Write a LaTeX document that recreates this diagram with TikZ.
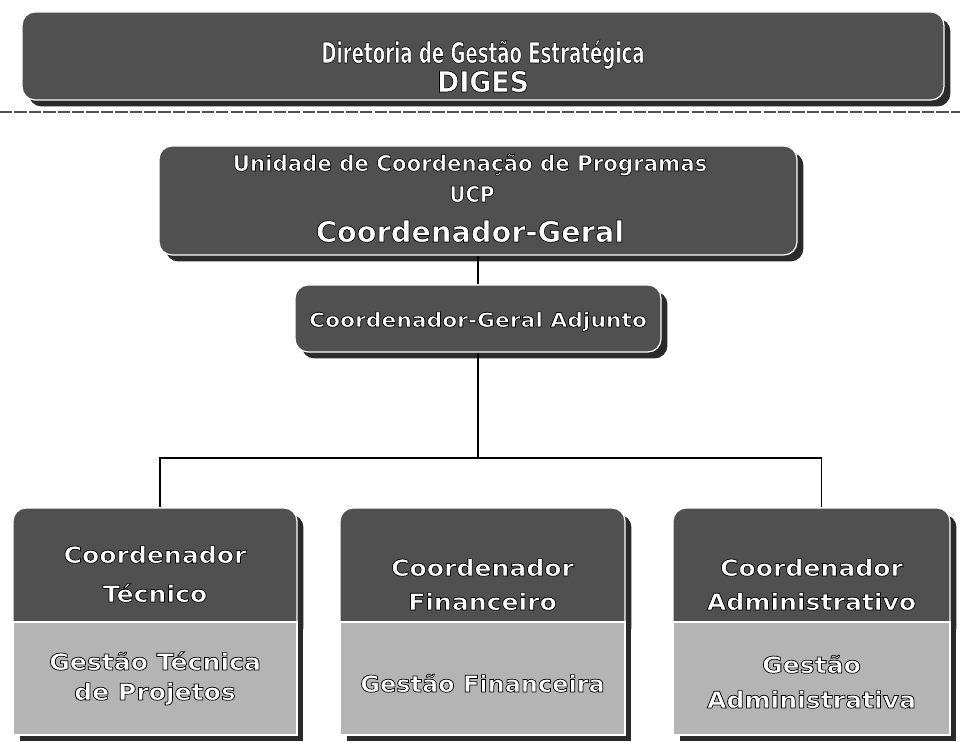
\documentclass[tikz,border=0pt]{standalone}
\usepackage{fontspec}
\setmainfont{DejaVu Sans}
\usepackage{graphicx}
\usetikzlibrary{shadows}
\definecolor{boxdark}{HTML}{505050}
\definecolor{boxlight}{HTML}{B4B4B4}
\definecolor{shd}{HTML}{2A2A2A}
\definecolor{dashc}{HTML}{505050}
\newcommand\outl[1]{\special{pdf:literal direct 0 0 0 RG 0.4 w 2 Tr}#1\special{pdf:literal direct 0 Tr}}
\newcommand\sx[2]{\scalebox{#1}[1]{\outl{#2}}}
\tikzset{
  sh/.style={drop shadow={shadow xshift=0.13cm, shadow yshift=-0.13cm, fill=shd, opacity=1}},
  darkbox/.style={rectangle, rounded corners=0.26cm, fill=boxdark, draw=white, line width=0.7pt, inner sep=0pt, sh},
  lightbox/.style={rectangle, fill=boxlight, draw=white, line width=0.7pt, inner sep=0pt, sh},
  lbl/.style={text=white, anchor=base, inner sep=0pt},
  big/.style={font=\bfseries\fontsize{16.4}{18}\selectfont},
  mid/.style={font=\bfseries\fontsize{12.5}{15}\selectfont},
  low/.style={font=\bfseries\fontsize{13}{15}\selectfont},
  small/.style={font=\bfseries\fontsize{11.3}{13}\selectfont},
  link/.style={draw=black, line width=0.9pt}
}
\begin{document}
\begin{tikzpicture}[x=0.02cm, y=0.02cm]
\useasboundingbox (0,0) rectangle (960,742);
\fill[white] (0,0) rectangle (960,742);

% top box
\node[darkbox, minimum width=18.44cm, minimum height=1.76cm] (diges) at (483,686) {};
\node[lbl, big] (t1) at (483,679) {\sx{0.63}{Diretoria de Gestão Estratégica}};
\node[lbl, big] (t2) at (483,650) {\sx{0.93}{DIGES}};

% separator
\coordinate (sepl) at (0,630);
\coordinate (sepr) at (960,630);
\draw[dashc, dash pattern=on 7pt off 1.2pt, line width=1pt] (sepl) -- (sepr);

% UCP
\node[darkbox, minimum width=12.76cm, minimum height=2.18cm] (ucp) at (478,541.5) {};
\node[lbl, mid] (u1) at (470,571) {\sx{0.97}{Unidade de Coordenação de Programas}};
\node[lbl, mid] (u2) at (472,540) {\sx{0.9}{UCP}};
\node[lbl, big] (u3) at (470,500) {\sx{1.0}{Coordenador-Geral}};

% Adjunto
\node[darkbox, minimum width=7.32cm, minimum height=1.34cm] (adj) at (478,423.5) {};
\node[lbl, small] (a1) at (478,415) {\sx{1.1}{Coordenador-Geral Adjunto}};

% bottom boxes: headers
\node[darkbox, minimum width=5.68cm, minimum height=2.52cm] (hl) at (155,171) {};
\node[darkbox, minimum width=5.70cm, minimum height=2.52cm] (hm) at (482.5,171) {};
\node[darkbox, minimum width=5.54cm, minimum height=2.52cm] (hr) at (811.5,171) {};
% bodies
\node[lightbox, minimum width=5.68cm, minimum height=2.26cm] (bl) at (155,63.5) {};
\node[lightbox, minimum width=5.70cm, minimum height=2.26cm] (bm) at (482.5,63.5) {};
\node[lightbox, minimum width=5.54cm, minimum height=2.26cm] (br) at (811.5,63.5) {};

% labels left
\node[lbl, low] (l1) at (155,179) {\sx{1.1}{Coordenador}};
\node[lbl, low] (l2) at (155,140) {\sx{1.1}{Técnico}};
\node[lbl, low] (l3) at (155,72) {\sx{1.1}{Gestão Técnica}};
\node[lbl, low] (l4) at (155,42) {\sx{1.1}{de Projetos}};
% labels middle
\node[lbl, low] (m1) at (482.5,166) {\sx{1.1}{Coordenador}};
\node[lbl, low] (m2) at (482.5,132) {\sx{1.1}{Financeiro}};
\node[lbl, low] (m3) at (482.5,50) {\sx{1.05}{Gestão Financeira}};
% labels right
\node[lbl, low] (r1) at (811.5,166) {\sx{1.1}{Coordenador}};
\node[lbl, low] (r2) at (811.5,132) {\sx{1.1}{Administrativo}};
\node[lbl, low] (r3) at (811.5,69) {\sx{1.1}{Gestão}};
\node[lbl, low] (r4) at (811.5,34) {\sx{1.1}{Administrativa}};

% connectors
\coordinate (bar) at (478,284);
\draw[link] (ucp.south) -- (adj.north);
\draw[link] (adj.south) -- (bar);
\draw[link] ([xshift=0.1cm]hl.north) |- (bar) -| ([xshift=0.2cm]hr.north);
\end{tikzpicture}
\end{document}
